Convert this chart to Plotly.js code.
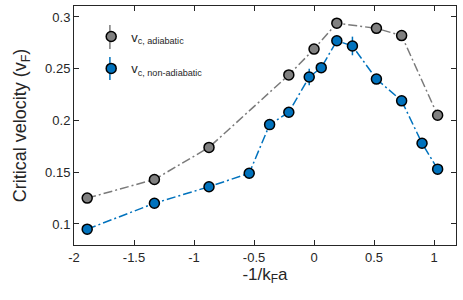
<!DOCTYPE html>
<html>
<head>
<meta charset="utf-8">
<script src="https://cdn.plot.ly/plotly-3.0.1.min.js"></script>
<style>html,body{margin:0;padding:0;background:#fff;}#chart{width:463px;height:300px;}</style>
</head>
<body>
<div id="chart"></div>
<script>
// Adiabatic series
const xAdiabatic = [-1.89, -1.33, -0.875, -0.21, 0.0, 0.19, 0.52, 0.73, 1.03];
const yAdiabatic = [0.125, 0.143, 0.174, 0.244, 0.269, 0.294, 0.289, 0.282, 0.205];
const errAdiabatic = [0.002, 0.002, 0.002, 0.002, 0.004, 0.003, 0.003, 0.003, 0.002];
// Non-adiabatic series
const xNonAdiabatic = [-1.89, -1.33, -0.875, -0.54, -0.37, -0.21, -0.04, 0.06, 0.19, 0.32, 0.52, 0.73, 0.90, 1.03];
const yNonAdiabatic = [0.095, 0.120, 0.136, 0.149, 0.196, 0.208, 0.242, 0.251, 0.277, 0.272, 0.240, 0.219, 0.178, 0.153];
const errNonAdiabatic = [0.002, 0.002, 0.002, 0.002, 0.004, 0.003, 0.008, 0.003, 0.004, 0.009, 0.003, 0.003, 0.002, 0.002];
const seriesNames = ['v<sub>c, adiabatic</sub>', 'v<sub>c, non-adiabatic</sub>'];
const xTicks = [-2, -1.5, -1, -0.5, 0, 0.5, 1];
const yTicks = [0.1, 0.15, 0.2, 0.25, 0.3];

const gray = '#7a7a7a';
const blue = '#0072BD';
const dashPattern = '9px,3px,2px,3px';

const traces = [
  {x: xAdiabatic, y: yAdiabatic, mode: 'lines+markers', showlegend: false,
   error_y: {type: 'data', array: errAdiabatic, color: gray, thickness: 1.5, width: 0},
   line: {color: gray, width: 1.5, dash: dashPattern},
   marker: {size: 10, color: '#808080', line: {color: '#000', width: 1.5}}},
  {x: xNonAdiabatic, y: yNonAdiabatic, mode: 'lines+markers', showlegend: false,
   error_y: {type: 'data', array: errNonAdiabatic, color: blue, thickness: 1.5, width: 0},
   line: {color: blue, width: 1.5, dash: dashPattern},
   marker: {size: 10, color: blue, line: {color: '#000', width: 1.5}}},
  {x: [null], y: [null], mode: 'markers', name: seriesNames[0], legendgroup: 'a',
   marker: {size: 10, color: '#808080', line: {color: '#000', width: 1.5}}},
  {x: [null], y: [null], mode: 'markers', name: seriesNames[1], legendgroup: 'b',
   marker: {size: 10, color: blue, line: {color: '#000', width: 1.5}}}
];

const axisCommon = {
  showgrid: false, zeroline: false, showline: true, linecolor: '#262626', linewidth: 1,
  mirror: 'ticks', ticks: 'inside', ticklen: 5, tickcolor: '#262626', tickwidth: 1,
  tickfont: {family: 'Liberation Sans, Arial, sans-serif', size: 13, color: '#262626'}
};

const layout = {
  width: 463, height: 300,
  margin: {l: 74, r: 7, t: 6, b: 55},
  paper_bgcolor: '#fff', plot_bgcolor: '#fff',
  font: {family: 'Liberation Sans, Arial, sans-serif', color: '#262626'},
  xaxis: Object.assign({}, axisCommon, {
    range: [-2, 1.183], tickvals: xTicks, ticktext: xTicks.map(String),
    title: {text: '-1/k<sub>F</sub>a', font: {size: 17, color: '#262626'}, standoff: 3}
  }),
  yaxis: Object.assign({}, axisCommon, {
    range: [0.0797, 0.3106], tickvals: yTicks, ticktext: yTicks.map(String),
    title: {text: 'Critical velocity (v<sub>F</sub>)', font: {size: 18, color: '#262626'}, standoff: 13}
  }),
  legend: {x: 0.045, y: 0.935, xanchor: 'left', yanchor: 'top', bgcolor: 'rgba(0,0,0,0)',
           font: {size: 13, color: '#262626'}, tracegroupgap: 12},
  shapes: [
    {type: 'line', xref: 'paper', yref: 'paper', x0: 0.094, x1: 0.094, y0: 0.82, y1: 0.92,
     line: {color: gray, width: 1.5}, layer: 'above'},
    {type: 'line', xref: 'paper', yref: 'paper', x0: 0.094, x1: 0.094, y0: 0.69, y1: 0.787,
     line: {color: blue, width: 1.5}, layer: 'above'}
  ]
};

Plotly.newPlot('chart', traces, layout, {displayModeBar: false, staticPlot: true});
</script>
</body>
</html>
